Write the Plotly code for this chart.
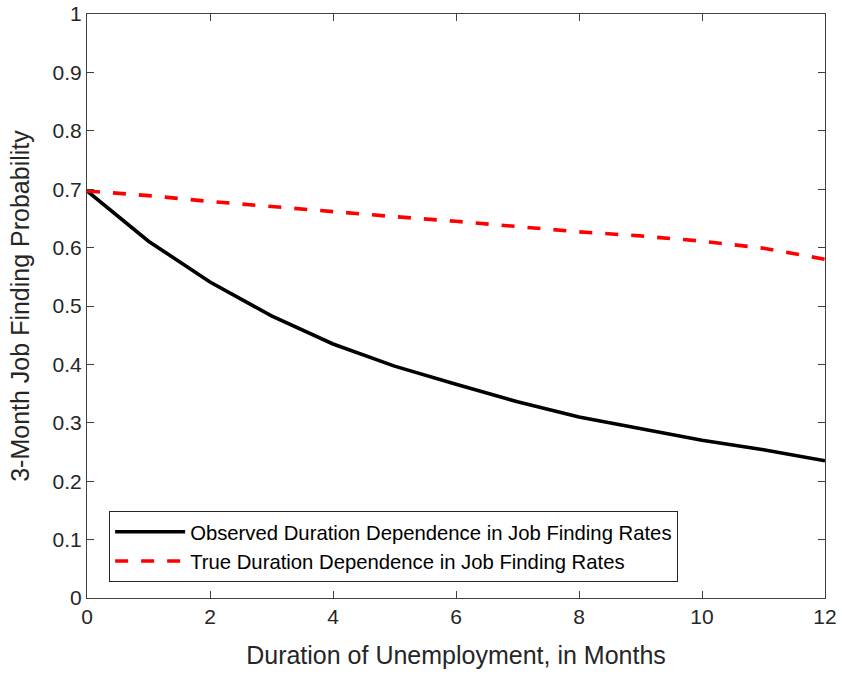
import plotly.graph_objects as go

months = [0, 1, 2, 3, 4, 5, 6, 7, 8, 9, 10, 11, 12]
observed = [0.697, 0.611, 0.541, 0.483, 0.435, 0.397, 0.366, 0.336, 0.310, 0.290, 0.270, 0.254, 0.235]
true_dd = [0.697, 0.689, 0.679, 0.670, 0.661, 0.653, 0.645, 0.636, 0.627, 0.620, 0.611, 0.599, 0.580]
x_ticks = [0, 2, 4, 6, 8, 10, 12]
y_ticks = [0, 0.1, 0.2, 0.3, 0.4, 0.5, 0.6, 0.7, 0.8, 0.9, 1]
y_labels = ["0", "0.1", "0.2", "0.3", "0.4", "0.5", "0.6", "0.7", "0.8", "0.9", "1"]

fig = go.Figure()
fig.add_trace(go.Scatter(x=months, y=observed, mode="lines",
                         line=dict(color="black", width=3.6),
                         name="Observed Duration Dependence in Job Finding Rates"))
fig.add_trace(go.Scatter(x=months, y=true_dd, mode="lines",
                         line=dict(color="#ff0000", width=3.6, dash="13px,13px"),
                         name="True Duration Dependence in Job Finding Rates"))

axis_common = dict(showgrid=False, zeroline=False, showline=True, mirror="ticks",
                   linecolor="#404040", linewidth=1, ticks="inside", ticklen=7,
                   tickcolor="#404040", tickfont=dict(size=21, color="#262626"),
                   title_font=dict(size=25, color="#262626"), automargin=False)

fig.update_xaxes(range=[0, 12], tickvals=x_ticks, ticktext=[str(t) for t in x_ticks],
                 title_text="Duration of Unemployment, in Months", title_standoff=19,
                 **axis_common)
fig.update_yaxes(range=[0, 1], tickvals=y_ticks, ticktext=y_labels,
                 title_text="3-Month Job Finding Probability", title_standoff=15,
                 **axis_common)

fig.update_layout(
    width=842, height=675, autosize=False,
    margin=dict(l=87, r=17, t=14, b=77),
    paper_bgcolor="white", plot_bgcolor="white",
    font=dict(family="Liberation Sans, Arial, sans-serif", color="#262626"),
    showlegend=True,
    legend=dict(x=0.03, y=0.149, xanchor="left", yanchor="top",
                bgcolor="white", bordercolor="#262626", borderwidth=1,
                font=dict(size=20.3, color="black"), itemwidth=70,
                tracegroupgap=0),
)

fig.write_html("out.html",
               config={"displayModeBar": False, "responsive": False},
               post_script="document.body.style.margin='0';document.body.style.overflow='hidden';")
